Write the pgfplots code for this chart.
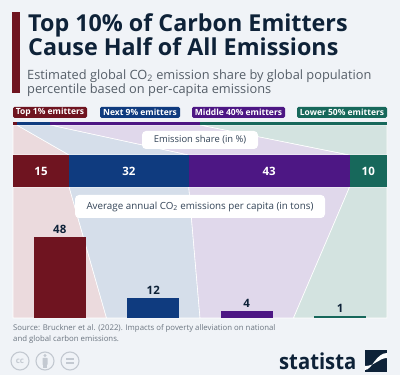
\documentclass[border=0pt]{standalone}
\usepackage{fontspec}
\setmainfont{Open Sans}
\usepackage{pgfplots}
\pgfplotsset{compat=1.18}
\definecolor{bg}{HTML}{F0F3F7}
\definecolor{dred}{HTML}{6F1420}
\definecolor{dblue}{HTML}{0F3B7F}
\definecolor{dpurple}{HTML}{4D1784}
\definecolor{dgreen}{HTML}{17685B}
\definecolor{lred}{HTML}{EBDADD}
\definecolor{lblue}{HTML}{D5DEEA}
\definecolor{lpurple}{HTML}{E0D8EB}
\definecolor{lgreen}{HTML}{D3E3E0}
\definecolor{titlec}{HTML}{0E2238}
\definecolor{subc}{HTML}{555E68}
\definecolor{srcc}{HTML}{6B7580}
\definecolor{iconc}{HTML}{C3C9D1}
\begin{document}
\begin{tikzpicture}
\pgfplotsset{base/.style={scale only axis, hide axis, clip=false, anchor=south west}}
% ---------- Axis A: canvas in pixel units ----------
\begin{axis}[base, at={(0pt,0pt)}, width=400pt, height=375pt,
  xmin=0, xmax=400, ymin=0, ymax=375]
\fill[bg] (rel axis cs:0,0) rectangle (rel axis cs:1,1);
\fill[dred] (axis cs:12,282) rectangle (axis cs:20,363);
\node[anchor=base west, inner sep=0, text=titlec, font=\bfseries\fontsize{23.3}{28}\selectfont] at (axis cs:28,343.5) {Top 10\% of Carbon Emitters};
\node[anchor=base west, inner sep=0, text=titlec, font=\bfseries\fontsize{23.3}{28}\selectfont] at (axis cs:28,319) {Cause Half of All Emissions};
\node[anchor=base west, inner sep=0, text=subc, font=\fontsize{12.8}{14}\selectfont] at (axis cs:27,295.5) {Estimated global CO\textsubscript{2} emission share by global population};
\node[anchor=base west, inner sep=0, text=subc, font=\fontsize{12.8}{14}\selectfont] at (axis cs:27,281.7) {percentile based on per-capita emissions};
% legend chips
\node[fill=dred, rounded corners=1.5pt, minimum width=74pt, minimum height=11pt, inner sep=0, text=white, font=\bfseries\fontsize{8.5}{9}\selectfont] at (axis cs:50,262.5) {Top 1\% emitters};
\node[fill=dblue, rounded corners=1.5pt, minimum width=80pt, minimum height=11pt, inner sep=0, text=white, font=\bfseries\fontsize{8.5}{9}\selectfont] at (axis cs:140,262.5) {Next 9\% emitters};
\node[fill=dpurple, rounded corners=1.5pt, minimum width=93pt, minimum height=11pt, inner sep=0, text=white, font=\bfseries\fontsize{8.5}{9}\selectfont] at (axis cs:238.5,262.5) {Middle 40\% emitters};
\node[fill=dgreen, rounded corners=1.5pt, minimum width=90pt, minimum height=11pt, inner sep=0, text=white, font=\bfseries\fontsize{8.5}{9}\selectfont] at (axis cs:342,262.5) {Lower 50\% emitters};
% source
\node[anchor=base west, inner sep=0, text=srcc, font=\fontsize{7.8}{9}\selectfont] at (axis cs:13,44) {Source: Bruckner et al. (2022). Impacts of poverty alleviation on national};
\node[anchor=base west, inner sep=0, text=srcc, font=\fontsize{7.8}{9}\selectfont] at (axis cs:13,33) {and global carbon emissions.};
% cc icons
\draw[iconc, line width=1.1pt] (axis cs:20,14) circle[radius=9pt];
\node[text=iconc, font=\bfseries\fontsize{8}{9}\selectfont] at (axis cs:20,14) {cc};
\draw[iconc, line width=1.1pt] (axis cs:45,14) circle[radius=9pt];
\fill[iconc] (axis cs:45,19.5) circle[radius=1.6pt];
\fill[iconc, rounded corners=0.5pt] (axis cs:42.5,17) rectangle (axis cs:47.5,10);
\fill[iconc] (axis cs:43.3,10.5) rectangle (axis cs:46.7,6.5);
\draw[iconc, line width=1.1pt] (axis cs:70,14) circle[radius=9pt];
\fill[iconc] (axis cs:66,15.2) rectangle (axis cs:74,16.8);
\fill[iconc] (axis cs:66,11.2) rectangle (axis cs:74,12.8);
% statista logo
\node[anchor=base west, inner sep=0, text=titlec, font=\bfseries\fontsize{22}{24}\selectfont, xscale=0.92] at (axis cs:279,5) {statista};
\fill[titlec] (axis cs:365,3) rectangle (axis cs:387,25);
\fill[white] (axis cs:365,5) .. controls (axis cs:372,5) and (axis cs:376,22) .. (axis cs:387,22) -- (axis cs:387,17) .. controls (axis cs:379,17) and (axis cs:375,9) .. (axis cs:365,9) -- cycle;
\end{axis}
% ---------- Axis B: tinted flows, x in percent ----------
\begin{axis}[base, at={(13pt,0pt)}, width=374pt, height=375pt,
  xmin=0, xmax=100, ymin=0, ymax=375]
% population share -> emission share
\addplot[fill=lred, draw=white, line width=0.6pt] coordinates {(0,250) (1,250) (15,220) (0,220)} -- cycle;
\addplot[fill=lblue, draw=white, line width=0.6pt] coordinates {(1,250) (10,250) (47,220) (15,220)} -- cycle;
\addplot[fill=lpurple, draw=white, line width=0.6pt] coordinates {(10,250) (50,250) (90,220) (47,220)} -- cycle;
\addplot[fill=lgreen, draw=white, line width=0.6pt] coordinates {(50,250) (100,250) (100,220) (90,220)} -- cycle;
% emission share -> equal quarters
\addplot[fill=lred, draw=white, line width=0.6pt] coordinates {(0,188) (15,188) (25,57) (0,57)} -- cycle;
\addplot[fill=lblue, draw=white, line width=0.6pt] coordinates {(15,188) (47,188) (50,57) (25,57)} -- cycle;
\addplot[fill=lpurple, draw=white, line width=0.6pt] coordinates {(47,188) (90,188) (75,57) (50,57)} -- cycle;
\addplot[fill=lgreen, draw=white, line width=0.6pt] coordinates {(90,188) (100,188) (100,57) (75,57)} -- cycle;
% white label boxes
\node[fill=white, rounded corners=4pt, minimum width=116pt, minimum height=18pt, inner sep=0, text=titlec!85, font=\fontsize{9.4}{11}\selectfont] at (axis cs:50,235) {Emission share (in \%)};
\node[fill=white, rounded corners=4pt, minimum width=250pt, minimum height=23pt, inner sep=0, text=titlec!85, font=\fontsize{9.8}{11}\selectfont] at (axis cs:50,168.5) {Average annual CO\textsubscript{2} emissions per capita (in tons)};
\end{axis}
% ---------- Axis D1: population strip ----------
\begin{axis}[base, at={(13pt,0pt)}, width=374pt, height=375pt,
  xmin=0, xmax=100, ymin=0, ymax=375, xbar stacked, bar width=3]
\addplot[fill=dred, draw=none] coordinates {(1,251.5)};
\addplot[fill=dblue, draw=none] coordinates {(9,251.5)};
\addplot[fill=dpurple, draw=none] coordinates {(40,251.5)};
\addplot[fill=dgreen, draw=none] coordinates {(50,251.5)};
\end{axis}
% ---------- Axis D2: emission share bar ----------
\begin{axis}[base, at={(13pt,0pt)}, width=374pt, height=375pt,
  xmin=0, xmax=100, ymin=0, ymax=375, xbar stacked, bar width=32]
\addplot[fill=dred, draw=none] coordinates {(15,204)};
\addplot[fill=dblue, draw=none] coordinates {(32,204)};
\addplot[fill=dpurple, draw=none] coordinates {(43,204)};
\addplot[fill=dgreen, draw=none] coordinates {(10,204)};
\end{axis}
% ---------- Axis E: labels of emission share ----------
\begin{axis}[base, at={(13pt,0pt)}, width=374pt, height=375pt,
  xmin=0, xmax=100, ymin=0, ymax=375]
\addplot[only marks, mark=text, text mark=15, text mark as node=true, text mark style={text=white, font=\bfseries\fontsize{11.5}{12}\selectfont}] coordinates {(7.5,204)};
\addplot[only marks, mark=text, text mark=32, text mark as node=true, text mark style={text=white, font=\bfseries\fontsize{11.5}{12}\selectfont}] coordinates {(31,204)};
\addplot[only marks, mark=text, text mark=43, text mark as node=true, text mark style={text=white, font=\bfseries\fontsize{11.5}{12}\selectfont}] coordinates {(68.5,204)};
\addplot[only marks, mark=text, text mark=10, text mark as node=true, text mark style={text=white, font=\bfseries\fontsize{11.5}{12}\selectfont}] coordinates {(95,204)};
\end{axis}
% ---------- Axis C: per-capita bars ----------
\begin{axis}[base, at={(13pt,57pt)}, width=374pt, height=180pt,
  xmin=0, xmax=100, ymin=0, ymax=106.5, ybar, bar width=13.9,
  point meta=explicit symbolic,
  nodes near coords, every node near coord/.append style={text=titlec, font=\bfseries\fontsize{11.5}{12}\selectfont}]
\addplot[fill=dred, draw=none, bar shift=0pt] coordinates {(12.5,48)[48]};
\addplot[fill=dblue, draw=none, bar shift=0pt] coordinates {(37.5,12)[12]};
\addplot[fill=dpurple, draw=none, bar shift=0pt] coordinates {(62.5,4)[4]};
\addplot[fill=dgreen, draw=none, bar shift=0pt] coordinates {(87.5,1)[1]};
\end{axis}
\end{tikzpicture}
\end{document}
